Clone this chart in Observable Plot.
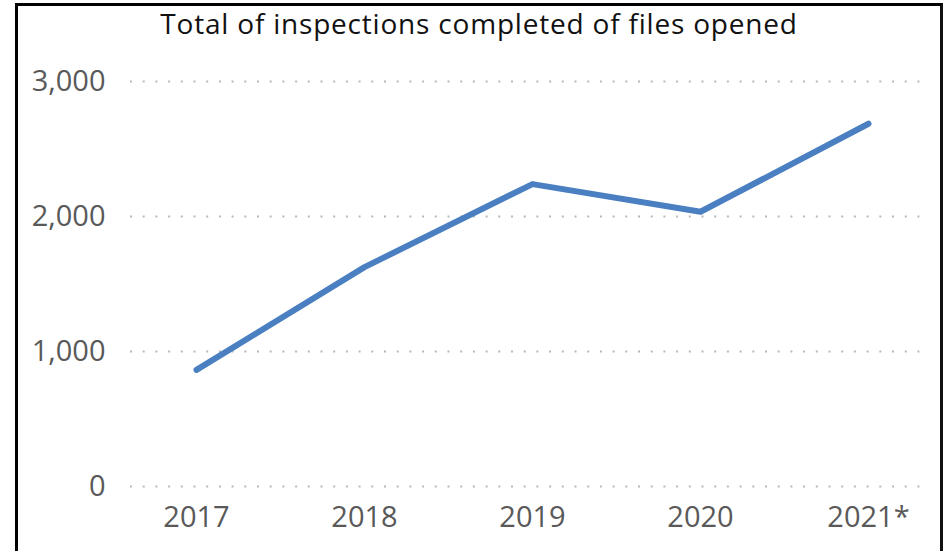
<!DOCTYPE html>
<html>
<head>
<meta charset="utf-8">
<script src="https://cdn.jsdelivr.net/npm/d3@7"></script>
<script src="https://cdn.jsdelivr.net/npm/@observablehq/plot@0.6"></script>
<style>
  html, body { margin: 0; padding: 0; background: #fff; overflow: hidden; }
  #frame {
    position: absolute; left: 15px; top: 3px; width: 922px; height: 560px;
    border-top: 3px solid #000; border-left: 3px solid #000; border-right: 3px solid #111;
    font-family: "Open Sans", sans-serif;
  }
  #title {
    height: 45px; box-sizing: border-box; padding-top: 2px;
    text-align: center; font-size: 28px; line-height: 30px; color: #111;
    letter-spacing: 0.8px; white-space: nowrap;
  }
</style>
</head>
<body>
<div id="frame">
  <div id="title">Total of inspections completed of files opened</div>
  <div id="chart"></div>
</div>
<script>
const years = ["2017", "2018", "2019", "2020", "2021*"];
const inspections = [864, 1625, 2240, 2035, 2687];
const yTicks = [0, 1000, 2000, 3000];

const data = years.map((y, i) => ({year: y, value: inspections[i]}));

const chart = Plot.plot({
  width: 922,
  height: 500,
  marginLeft: 112,
  marginRight: 15,
  marginTop: 30,
  marginBottom: 65,
  style: {fontFamily: "Open Sans, sans-serif", fontSize: "29px", color: "#595959", background: "transparent"},
  x: {type: "point", domain: years, padding: 0.366, align: 0.537, label: null},
  y: {domain: [0, 3000], label: null},
  marks: [
    Plot.gridY(yTicks, {stroke: "#b8b8b8", strokeOpacity: 1, strokeWidth: 2, strokeDasharray: "2 10.7"}),
    Plot.axisY(yTicks, {tickSize: 0, tickPadding: 25, tickFormat: d3.format(","), fill: "#595959", fontSize: 29}),
    Plot.axisX({tickSize: 0, tickPadding: 20, fill: "#595959", fontSize: 29}),
    Plot.line(data, {x: "year", y: "value", stroke: "#4a7fc1", strokeWidth: 6, strokeLinecap: "round", strokeLinejoin: "round"})
  ]
});
document.getElementById("chart").appendChild(chart);
</script>
</body>
</html>
